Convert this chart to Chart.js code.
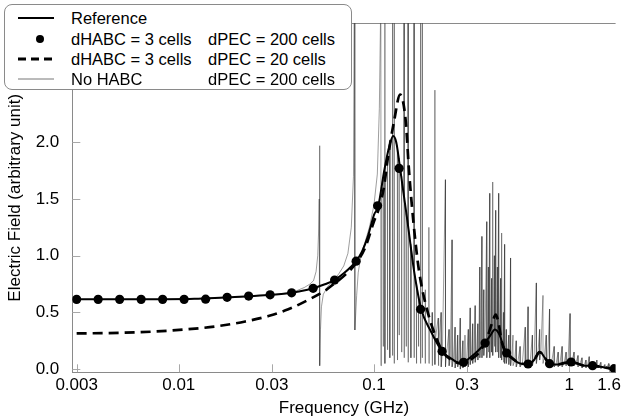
<!DOCTYPE html>
<html>
<head>
<meta charset="utf-8">
<script src="https://cdn.jsdelivr.net/npm/chart.js@4/dist/chart.umd.min.js"></script>
<style>
  html, body { margin: 0; padding: 0; background: #fff; }
  #wrap { position: relative; width: 624px; height: 419px; }
  canvas { position: absolute; left: 0; top: 0; }
  #legend {
    position: absolute; left: 4px; top: 4px; width: 346px; height: 84px;
    border: 1px solid #8a8a8a; border-radius: 8px; background: #fff;
    font-family: 'Liberation Sans', Arial, sans-serif; font-size: 16.5px; color: #000;
  }
  .row { position: absolute; left: 0; height: 20px; width: 100%; }
  .row svg { position: absolute; left: 12px; top: 0; }
  .t1 { position: absolute; left: 66px; top: 1px; white-space: pre; line-height: 18px; }
  .t2 { position: absolute; left: 203px; top: 1px; white-space: pre; line-height: 18px; }
</style>
</head>
<body>
<div id="wrap">
  <canvas id="c" width="624" height="419"></canvas>
  <div id="legend">
    <div class="row" style="top:3px">
      <svg width="44" height="20"><line x1="1" y1="10" x2="37" y2="10" stroke="#000" stroke-width="2"/></svg>
      <span class="t1">Reference</span>
    </div>
    <div class="row" style="top:24px">
      <svg width="44" height="20"><circle cx="23" cy="10" r="4" fill="#000"/></svg>
      <span class="t1">dHABC = 3 cells</span><span class="t2">dPEC = 200 cells</span>
    </div>
    <div class="row" style="top:44px">
      <svg width="44" height="20"><line x1="1" y1="10" x2="37" y2="10" stroke="#000" stroke-width="3" stroke-dasharray="8,5"/></svg>
      <span class="t1">dHABC = 3 cells</span><span class="t2">dPEC = 20 cells</span>
    </div>
    <div class="row" style="top:64px">
      <svg width="44" height="20"><line x1="1" y1="10" x2="37" y2="10" stroke="#777" stroke-width="1"/></svg>
      <span class="t1">No HABC</span><span class="t2">dPEC = 200 cells</span>
    </div>
  </div>
</div>
<script>
// ---------------- DATA ----------------
const xTickValues = [0.003, 0.01, 0.03, 0.1, 0.3, 1, 1.6];
const xTickLabels = ['0.003', '0.01', '0.03', '0.1', '0.3', '1', '1.6'];
const yTickValues = [0, 0.5, 1.0, 1.5, 2.0];

// Reference (solid)
const refFreq = [0.003, 0.005, 0.008, 0.012, 0.017, 0.023, 0.03, 0.038, 0.045, 0.05, 0.056, 0.0628, 0.07, 0.0765, 0.081, 0.087, 0.093, 0.1, 0.1052, 0.1128, 0.1196, 0.1253, 0.130, 0.136, 0.1482, 0.1602, 0.1745, 0.1946, 0.2232, 0.25, 0.2764, 0.2876, 0.31, 0.34, 0.3705, 0.395, 0.416, 0.44, 0.46, 0.4775, 0.52, 0.56, 0.6152, 0.66, 0.705, 0.75, 0.7927, 0.87, 0.95, 1.0214, 1.1, 1.2, 1.3161, 1.45, 1.6, 1.696];
const refVal  = [0.615, 0.615, 0.616, 0.620, 0.632, 0.643, 0.655, 0.673, 0.697, 0.718, 0.748, 0.785, 0.845, 0.905, 0.952, 1.04, 1.17, 1.36, 1.44, 1.75, 1.96, 2.055, 2.0, 1.77, 1.31, 0.87, 0.527, 0.34, 0.157, 0.09, 0.052, 0.06, 0.1, 0.16, 0.23, 0.30, 0.35, 0.30, 0.20, 0.142, 0.08, 0.05, 0.045, 0.08, 0.153, 0.10, 0.048, 0.04, 0.055, 0.063, 0.05, 0.03, 0.03, 0.02, 0.008, 0.004];

// dHABC = 3 cells, dPEC = 200 cells (dots)
const dotFreq = [0.003, 0.003866, 0.004981, 0.006418, 0.00827, 0.010656, 0.01373, 0.01769, 0.0228, 0.02937, 0.03785, 0.04877, 0.06284, 0.08097, 0.10433, 0.13443, 0.17322, 0.2232, 0.2876, 0.3705, 0.4775, 0.6152, 0.7927, 1.0214, 1.3161, 1.696];
const dotVal  = [0.615, 0.615, 0.615, 0.615, 0.615, 0.615, 0.617, 0.633, 0.644, 0.655, 0.673, 0.712, 0.785, 0.952, 1.44, 1.77, 0.527, 0.157, 0.06, 0.23, 0.142, 0.045, 0.048, 0.063, 0.03, 0.004];

// dHABC = 3 cells, dPEC = 20 cells (dashed)
const dashFreq = [0.003, 0.005, 0.0073, 0.0109, 0.016, 0.0219, 0.0288, 0.0364, 0.046, 0.0559, 0.0628, 0.07, 0.081, 0.09, 0.1003, 0.1052, 0.1128, 0.1172, 0.1268, 0.136, 0.1453, 0.1511, 0.1589, 0.1699, 0.1872, 0.2104, 0.2276, 0.25, 0.28, 0.31, 0.35, 0.38, 0.405, 0.42, 0.435, 0.45, 0.47, 0.5, 0.56, 0.6152, 0.66, 0.705, 0.75, 0.7927, 0.87, 0.95, 1.0214, 1.1, 1.2, 1.3161, 1.45, 1.6, 1.696];
const dashVal  = [0.315, 0.32, 0.33, 0.35, 0.38, 0.42, 0.468, 0.527, 0.61, 0.69, 0.756, 0.82, 0.935, 1.07, 1.31, 1.40, 1.62, 1.84, 2.19, 2.42, 2.19, 1.75, 1.31, 0.87, 0.52, 0.256, 0.14, 0.08, 0.05, 0.08, 0.16, 0.28, 0.42, 0.48, 0.40, 0.25, 0.15, 0.11, 0.05, 0.045, 0.08, 0.15, 0.10, 0.048, 0.04, 0.055, 0.063, 0.05, 0.03, 0.03, 0.02, 0.008, 0.004];

// No HABC, dPEC = 200 cells (thin grey, resonant spikes)
const noHabcFreq = [
  0.003, 0.01, 0.02, 0.03, 0.036, 0.040, 0.044, 0.047, 0.049, 0.0505, 0.0515, 0.052, 0.0524, 0.0526, 0.0528, 0.0532, 0.0538, 0.055, 0.058, 0.062, 0.066, 0.070, 0.0735, 0.0765, 0.0785, 0.0793, 0.0798, 0.0815, 0.083, 0.086, 0.090, 0.095, 0.100, 0.104, 0.1065,
  0.1084, 0.1086, 0.1090, 0.1113, 0.1115, 0.1118, 0.1134, 0.1136, 0.1138, 0.1142, 0.1170, 0.1172, 0.1175, 0.1203, 0.1205, 0.1208, 0.1241, 0.1243, 0.1245, 0.1248, 0.1266, 0.1268, 0.1270, 0.1273,
  0.1316, 0.1318, 0.1321, 0.1343, 0.1345, 0.1348, 0.1383, 0.1385, 0.1388, 0.1422, 0.1425, 0.1427, 0.1430, 0.1459, 0.1462, 0.1465, 0.1491, 0.1494, 0.1496, 0.1499,
  0.1542, 0.1545, 0.1548, 0.1600, 0.1603, 0.1605, 0.1608, 0.1647, 0.1650, 0.1653, 0.1687, 0.1690, 0.1693, 0.1728, 0.1731, 0.1733, 0.1736, 0.1764, 0.1766, 0.1768, 0.1772,
  0.1826, 0.1829, 0.1831, 0.1835, 0.1906, 0.1910, 0.1913, 0.1917, 0.1980, 0.1985, 0.1988, 0.1993, 0.2045, 0.2049, 0.2052, 0.2058,
  0.2130, 0.2133, 0.2150, 0.2206, 0.2209, 0.2240, 0.2320, 0.2323, 0.2350, 0.2422, 0.2425, 0.2460, 0.2509, 0.2512, 0.2550, 0.2600, 0.2603, 0.2640, 0.2680, 0.2683, 0.2720,
  0.2764, 0.2767, 0.2800, 0.2850, 0.2853, 0.2890, 0.2921, 0.2924, 0.2980, 0.3040, 0.3043, 0.3070, 0.3108, 0.3111, 0.3150, 0.3200, 0.3203, 0.3250, 0.3295, 0.3298, 0.3350,
  0.3400, 0.3403, 0.3440, 0.3480, 0.3483, 0.3520, 0.3568, 0.3571, 0.3610, 0.3647, 0.3650, 0.3700, 0.3778, 0.3781, 0.3810, 0.3850, 0.3853, 0.3880, 0.3913, 0.3916, 0.3950,
  0.4000, 0.4003, 0.4030, 0.4053, 0.4056, 0.4090, 0.4130, 0.4133, 0.4160, 0.4197, 0.4200, 0.4240, 0.4280, 0.4283, 0.4310, 0.4348, 0.4351, 0.4390, 0.4450, 0.4453, 0.4480,
  0.4503, 0.4506, 0.4550, 0.4600, 0.4603, 0.4630, 0.4664, 0.4667, 0.4710, 0.4760, 0.4763, 0.4820, 0.4900, 0.4903, 0.4950, 0.5003, 0.5006, 0.5080, 0.5150, 0.5153, 0.5250,
  0.5350, 0.5353, 0.5450, 0.5600, 0.5603, 0.5750, 0.5950, 0.5953, 0.6050, 0.6152, 0.6155, 0.6300, 0.6473, 0.6476, 0.6600, 0.6782, 0.6785, 0.6900, 0.7049, 0.7052, 0.7150,
  0.7335, 0.7338, 0.7450, 0.7623, 0.7626, 0.7750, 0.7925, 0.7928, 0.8100, 0.8370, 0.8373, 0.8550, 0.8772, 0.8775, 0.8950, 0.9191, 0.9194, 0.9400, 0.9632, 0.9635, 0.9850,
  1.0094, 1.0097, 1.0300, 1.0578, 1.0581, 1.0800, 1.1085, 1.1088, 1.1300, 1.1616, 1.1619, 1.1900, 1.2173, 1.2176, 1.2400, 1.2650, 1.2653, 1.2900, 1.3212, 1.3215, 1.3500,
  1.3845, 1.3848, 1.4100, 1.4508, 1.4511, 1.4800, 1.5203, 1.5206, 1.5500, 1.5932, 1.5935, 1.6400, 1.6893];
const noHabcVal = [
  0.615, 0.616, 0.632, 0.655, 0.672, 0.69, 0.72, 0.75, 0.78, 0.86, 1.0, 1.2, 1.5, 1.97, 0.03, 0.35, 0.55, 0.66, 0.73, 0.78, 0.84, 0.91, 1.02, 1.25, 1.7, 3.3, 0.345, 0.65, 0.85, 1.02, 1.12, 1.26, 1.45, 1.72, 2.3,
  3.3, 0.03, 1.6, 1.69, 0.2, 1.71, 1.77, 3.3, 0.05, 1.79, 1.89, 0.17, 1.9, 1.97, 0.1, 1.98, 2.04, 3.3, 0.12, 2.05, 2.05, 3.3, 0.05, 2.04,
  1.96, 0.08, 1.94, 1.86, 0.3, 1.84, 1.70, 0.15, 1.68, 1.52, 3.3, 0.1, 1.48, 1.38, 0.2, 1.36, 1.28, 3.3, 0.06, 1.25,
  1.10, 0.1, 1.08, 0.88, 3.3, 0.1, 0.86, 0.76, 0.05, 0.75, 0.66, 0.2, 0.65, 0.56, 3.3, 0.05, 0.54, 0.50, 3.3, 0.1, 0.49,
  0.44, 0.7, 0.05, 0.43, 0.37, 1.25, 0.05, 0.36, 0.31, 0.5, 0.03, 0.30, 0.26, 2.46, 0.04, 0.25,
  0.45, 0.03, 0.2, 0.5, 0.02, 0.15, 1.67, 0.02, 0.12, 0.35, 0.03, 0.1, 1.14, 0.02, 0.08, 0.37, 0.01, 0.07, 0.3, 0.02, 0.06,
  0.45, 0.0, 0.05, 0.25, 0.01, 0.06, 0.3, 0.02, 0.08, 0.35, 0.02, 0.09, 0.54, 0.04, 0.11, 0.4, 0.05, 0.13, 0.56, 0.06, 0.15,
  0.4, 0.08, 0.17, 0.9, 0.1, 0.19, 1.17, 0.1, 0.21, 0.7, 0.12, 0.23, 1.3, 0.1, 0.26, 0.9, 0.15, 0.28, 1.55, 0.1, 0.30,
  0.8, 0.15, 0.32, 1.65, 0.12, 0.34, 1.0, 0.2, 0.35, 1.4, 0.15, 0.34, 0.9, 0.15, 0.33, 1.55, 0.1, 0.31, 0.8, 0.1, 0.27,
  1.2, 0.08, 0.23, 0.5, 0.06, 0.19, 1.1, 0.05, 0.16, 0.35, 0.05, 0.13, 0.3, 0.04, 0.11, 0.98, 0.03, 0.09, 0.3, 0.03, 0.07,
  0.25, 0.02, 0.06, 0.2, 0.02, 0.05, 0.37, 0.02, 0.045, 0.55, 0.02, 0.055, 0.3, 0.03, 0.08, 0.76, 0.05, 0.12, 0.35, 0.08, 0.14,
  0.65, 0.05, 0.1, 0.3, 0.04, 0.07, 0.53, 0.02, 0.05, 0.2, 0.02, 0.04, 0.15, 0.02, 0.045, 0.2, 0.02, 0.05, 0.15, 0.03, 0.06,
  0.49, 0.03, 0.06, 0.15, 0.03, 0.05, 0.12, 0.02, 0.04, 0.1, 0.01, 0.03, 0.08, 0.01, 0.03, 0.11, 0.01, 0.03, 0.06, 0.01, 0.025,
  0.08, 0.01, 0.02, 0.06, 0.005, 0.015, 0.04, 0.005, 0.01, 0.05, 0.0, 0.008, 0.02];

// ---------------- BUILD ----------------
const pts = (xs, ys) => xs.map((x, i) => ({ x: x, y: ys[i] }));

Chart.defaults.font.family = "'Liberation Sans', Arial, sans-serif";
Chart.defaults.font.size = 17;
Chart.defaults.color = '#000';

const frame = {
  id: 'frame',
  beforeDatasetsDraw(chart) {
    const { ctx, chartArea: a, scales: { x, y } } = chart;
    ctx.save();
    ctx.strokeStyle = '#a8a8a8';
    ctx.lineWidth = 1;
    ctx.beginPath();
    xTickValues.forEach(v => {
      const px = Math.round(x.getPixelForValue(v)) + 0.5;
      ctx.moveTo(px, a.bottom); ctx.lineTo(px, a.bottom - 8);
    });
    yTickValues.forEach(v => {
      const py = Math.round(y.getPixelForValue(v)) + 0.5;
      ctx.moveTo(a.left, py); ctx.lineTo(a.left + 8, py);
    });
    ctx.stroke();
    ctx.strokeStyle = '#8a8a8a';
    ctx.beginPath();
    ctx.moveTo(a.left, Math.round(a.top) + 0.5);
    ctx.lineTo(a.right, Math.round(a.top) + 0.5);
    ctx.stroke();
    ctx.restore();
  }
};

new Chart(document.getElementById('c'), {
  type: 'line',
  data: {
    datasets: [
      {
        label: 'No HABC  dPEC = 200 cells',
        data: pts(noHabcFreq, noHabcVal),
        borderColor: 'rgba(50,50,50,0.6)', borderWidth: 0.8,
        pointRadius: 0, tension: 0, order: 4
      },
      {
        label: 'dHABC = 3 cells  dPEC = 20 cells',
        data: pts(dashFreq, dashVal),
        borderColor: '#000', borderWidth: 2.7, borderDash: [10, 6],
        pointRadius: 0, cubicInterpolationMode: 'monotone', order: 3
      },
      {
        label: 'Reference',
        data: pts(refFreq, refVal),
        borderColor: '#000', borderWidth: 2,
        pointRadius: 0, cubicInterpolationMode: 'monotone', order: 2
      },
      {
        label: 'dHABC = 3 cells  dPEC = 200 cells',
        data: pts(dotFreq, dotVal),
        showLine: false, pointRadius: 4.6, pointBackgroundColor: '#000',
        pointBorderColor: '#000', pointBorderWidth: 0, order: 1
      }
    ]
  },
  options: {
    responsive: false,
    animation: false,
    devicePixelRatio: 1,
    layout: { padding: { top: 23, right: 4, left: 0, bottom: 0 } },
    plugins: { legend: { display: false }, tooltip: { enabled: false } },
    scales: {
      x: {
        type: 'logarithmic',
        min: 0.00285, max: 1.727,
        grid: { display: false, drawTicks: false },
        border: { display: true, color: '#8a8a8a', width: 1 },
        afterBuildTicks: s => { s.ticks = xTickValues.map(v => ({ value: v })); },
        afterFit: s => { s.height = 46.7; },
        ticks: {
          autoSkip: false, maxRotation: 0, padding: 3,
          callback: (v) => { const i = xTickValues.indexOf(v); return i >= 0 ? xTickLabels[i] : ''; }
        },
        title: { display: true, text: 'Frequency (GHz)', padding: { top: 5, bottom: 0 } }
      },
      y: {
        type: 'linear',
        min: -0.028, max: 3.05,
        grid: { display: false, drawTicks: false },
        border: { display: true, color: '#8a8a8a', width: 1 },
        afterBuildTicks: s => { s.ticks = yTickValues.map(v => ({ value: v })); },
        afterFit: s => { s.width = 72.3; },
        ticks: { padding: 13, callback: v => Number(v).toFixed(1) },
        title: { display: true, text: 'Electric Field (arbitrary unit)', padding: { top: 5, bottom: 0 } }
      }
    }
  },
  plugins: [frame]
});
</script>
</body>
</html>
